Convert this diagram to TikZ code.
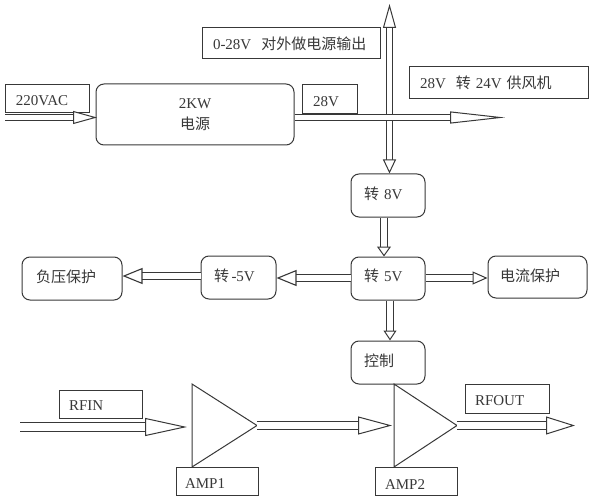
\documentclass[tikz,border=0pt]{standalone}
\usepackage{fontspec}
\setmainfont{Liberation Serif}
\newfontfamily\cjk{Noto Sans CJK SC}
\newcommand{\zh}[1]{{\fontsize{15}{18}\selectfont\cjk #1}}
\newcommand{\nudge}[2]{\raisebox{#1}[\height][\depth]{#2}}
\usetikzlibrary{arrows.meta,calc}
\definecolor{ink}{HTML}{383838}
\tikzset{
  every node/.style={text=ink,font=\fontsize{15}{22}\selectfont},
  flatbox/.style={draw=ink,line width=1pt,fill=white,inner ysep=0pt,align=left},
  softbox/.style={flatbox,rounded corners=8pt},
  amp/.style={draw=ink,line width=1pt,fill=white,line join=miter},
  blockS/.style={draw=ink,line width=1pt,double=white,double distance=5pt,
    -{Triangle[open,fill=white,length=24pt,width=13pt,line width=1pt]}},
  blockM/.style={draw=ink,line width=1pt,double=white,double distance=6pt,
    -{Triangle[open,fill=white,length=15pt,width=15pt,line width=1pt]}},
  blockL/.style={draw=ink,line width=1pt,double=white,double distance=7.5pt,
    -{Triangle[open,fill=white,length=34pt,width=18pt,line width=1pt]}},
  blockH/.style={draw=ink,line width=1.2pt,double=white,double distance=6.5pt,
    -{Triangle[open,fill=white,length=20pt,width=16pt,line width=1.1pt]}},
}
% name, style, x1, y1, x2, y2, left padding, text
\newcommand{\bx}[8]{%
  \pgfmathsetmacro{\bw}{#5-#3}\pgfmathsetmacro{\bh}{#6-#4}%
  \pgfmathsetmacro{\tw}{#5-#3-2*#7}%
  \node[#2,minimum width=\bw pt,minimum height=\bh pt,inner xsep=#7 pt,text width=\tw pt]
    (#1) at ({(#3+#5)/2},{(#4+#6)/2}) {#8};}
\begin{document}
\begin{tikzpicture}[x=1pt,y=-1pt]
\useasboundingbox (0,0) rectangle (592,500);
% boxes
\bx{acin}{flatbox}{5}{85}{89}{113}{11}{\nudge{-2pt}{220VAC}}
\node[softbox,minimum width=198pt,minimum height=61pt,align=center] (psu) at (195,114.5)
  {2KW\\[-1pt]\zh{电源}};
\bx{ext}{flatbox}{202}{28}{380}{59}{11}{0-28V\ \ \zh{对外做电源输出}}
\bx{v28}{flatbox}{302}{85}{357}{114}{11}{\nudge{-2pt}{28V}}
\bx{fan}{flatbox}{409}{67}{588}{99}{11}{28V\ \ \zh{转}\ 24V\ \zh{供风机}}
\bx{c8}{softbox}{351}{174}{425}{217}{13}{\nudge{2pt}{\zh{转}\ 8V}}
\bx{c5}{softbox}{351}{257}{425}{300}{13}{\nudge{3pt}{\zh{转}\ 5V}}
\bx{cm5}{softbox}{201}{256}{276}{299}{13}{\nudge{2pt}{\zh{转}\,-5V}}
\bx{neg}{softbox}{22}{257}{122}{300}{14}{\nudge{2pt}{\zh{负压保护}}}
\bx{cur}{softbox}{488}{256}{587}{298}{12}{\nudge{1pt}{\zh{电流保护}}}
\bx{ctl}{softbox}{351}{341}{425}{384}{13}{\nudge{2pt}{\zh{控制}}}
\bx{rfin}{flatbox}{59}{390}{142}{418}{10}{\nudge{-2pt}{RFIN}}
\bx{rfout}{flatbox}{465}{384}{549}{413}{10}{\nudge{-2pt}{RFOUT}}
\bx{lamp1}{flatbox}{176}{467}{258}{495}{9}{\nudge{-3pt}{AMP1}}
\bx{lamp2}{flatbox}{375}{467}{457}{495}{10}{\nudge{-4pt}{AMP2}}
% amplifiers
\coordinate (a1t) at (192,384); \coordinate (a1b) at (192,467); \coordinate (a1o) at (257,425.5);
\coordinate (a2t) at (394,384); \coordinate (a2b) at (394,467); \coordinate (a2o) at (457,425.5);
\draw[amp] (a1t) -- (a1o) -- (a1b) -- cycle;
\draw[amp] (a2t) -- (a2o) -- (a2b) -- cycle;
% free ends
\coordinate (acstart) at (5,117.5);
\coordinate (acend) at (97,117.5);
\coordinate (busend) at (505,117.5);
\coordinate (cross) at (389.5,117.5);
\coordinate (top) at (389.5,4);
\coordinate (rfstart) at (20,427);
\coordinate (rfend) at (187,427);
\coordinate (outend) at (575,425.5);
\coordinate (a2in) at (392,425.5);
% connectors
\draw[blockS] (acstart) -- (acend);
\draw[blockS] (cross) -- (top);
\draw[blockS,-{Triangle[open,fill=white,length=14pt,width=13pt,line width=1pt]}] (cross) -- (cross |- c8.north);
\draw[blockS,-{Triangle[open,fill=white,length=55pt,width=12pt,line width=1pt]}] (psu.east |- busend) -- (busend);
\draw[blockM,-{Triangle[open,fill=white,length=10pt,width=14pt,line width=1pt]}] ([xshift=-4pt]c8.south) -- ([xshift=-4pt]c5.north);
\draw[blockM,-{Triangle[open,fill=white,length=10pt,width=13pt,line width=1pt]}] ([xshift=2pt]c5.south) -- ([xshift=2pt]ctl.north);
\draw[blockH] ([yshift=0.5pt]c5.west) -- ([yshift=0.5pt]c5.west -| cm5.east);
\draw[blockH] ([yshift=1.5pt]cm5.west) -- ([yshift=1.5pt]cm5.west -| neg.east);
\draw[blockM,-{Triangle[open,fill=white,length=15pt,width=13pt,line width=1pt]}] ([yshift=0.5pt]c5.east) -- ([yshift=0.5pt]c5.east -| cur.west);
\draw[blockL,-{Triangle[open,fill=white,length=42pt,width=18pt,line width=1pt]}] (rfstart) -- (rfend);
\draw[blockL] (a1o) -- (a2in);
\draw[blockL,-{Triangle[open,fill=white,length=29pt,width=18pt,line width=1pt]}] (a2o) -- (outend);
\end{tikzpicture}
\end{document}
